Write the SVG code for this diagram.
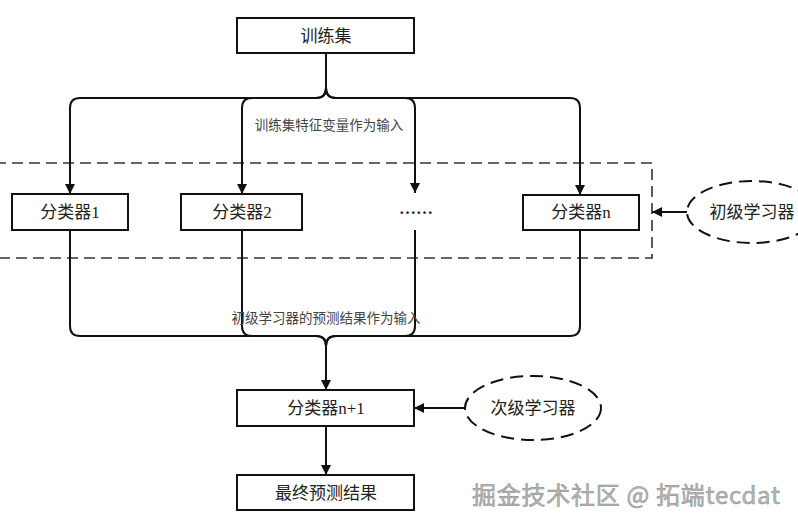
<svg xmlns="http://www.w3.org/2000/svg" width="798" height="528" viewBox="0 0 798 528">
<defs>
<style>
.box{fill:#fff;stroke:#111;stroke-width:2}
.t{font-family:"Liberation Serif","Noto Sans CJK SC",serif;font-size:17px;fill:#222;text-anchor:middle;dominant-baseline:central}
.lbl{font-family:"Liberation Serif","Noto Sans CJK SC",serif;font-size:13.5px;fill:#444;text-anchor:middle;dominant-baseline:central}
.ln{fill:none;stroke:#111;stroke-width:2}
.dash{fill:none;stroke:#333;stroke-width:1.6;stroke-dasharray:11 6}
.ell{fill:#fff;stroke:#111;stroke-width:2;stroke-dasharray:13 7}
</style>
<marker id="ah" viewBox="0 0 10 10" refX="10" refY="5" markerWidth="10" markerHeight="10" markerUnits="userSpaceOnUse" orient="auto">
<path d="M0,0 L10,5 L0,10 Z" fill="#111"/>
</marker>
</defs>
<rect width="798" height="528" fill="#fff"/>
<rect class="dash" x="-5" y="163" width="657" height="95"/>
<g id="connectors">
<path class="ln" d="M326,53 V88 Q326,98 316,98 H80 Q70,98 70,108 V194" marker-end="url(#ah)"/>
<path class="ln" d="M326,53 V88 Q326,98 316,98 H252 Q242,98 242,108 V194" marker-end="url(#ah)"/>
<path class="ln" d="M326,53 V88 Q326,98 336,98 H405 Q415,98 415,108 V193" marker-end="url(#ah)"/>
<path class="ln" d="M326,53 V88 Q326,98 336,98 H570 Q580,98 580,108 V195" marker-end="url(#ah)"/>
<path class="ln" d="M70,230 V326 Q70,336 80,336 H316 Q326,336 326,346 V390" marker-end="url(#ah)"/>
<path class="ln" d="M242,230 V326 Q242,336 252,336 H316 Q326,336 326,346"/>
<path class="ln" d="M415,230 V326 Q415,336 405,336 H336 Q326,336 326,346"/>
<path class="ln" d="M580,230 V326 Q580,336 570,336 H336 Q326,336 326,346"/>
<path class="ln" d="M326,426 V475" marker-end="url(#ah)"/>
<path class="ln" d="M687,212 H652" marker-end="url(#ah)"/>
<path class="ln" d="M465,408 H414" marker-end="url(#ah)"/>
<text class="lbl" x="329" y="125">训练集特征变量作为输入</text>
<text class="lbl" x="326" y="318">初级学习器的预测结果作为输入</text>
</g>
<g id="n-train"><rect class="box" x="237" y="18" width="177" height="35"/><text class="t" x="326" y="36">训练集</text></g>
<g id="n-c1"><rect class="box" x="12" y="194" width="116" height="36"/><text class="t" x="70" y="212">分类器1</text></g>
<g id="n-c2"><rect class="box" x="181" y="194" width="121" height="36"/><text class="t" x="242" y="212">分类器2</text></g>
<g id="n-dots"><text class="t" x="416" y="208" font-weight="bold">……</text></g>
<g id="n-cn"><rect class="box" x="523" y="195" width="116" height="35"/><text class="t" x="581" y="212">分类器n</text></g>
<g id="n-primary"><ellipse class="ell" cx="752" cy="212" rx="65" ry="31"/><text class="t" x="752" y="212">初级学习器</text></g>
<g id="n-cn1"><rect class="box" x="237" y="390" width="177" height="36"/><text class="t" x="326" y="408">分类器n+1</text></g>
<g id="n-secondary"><ellipse class="ell" cx="533" cy="408" rx="68" ry="32"/><text class="t" x="533" y="408">次级学习器</text></g>
<g id="n-final"><rect class="box" x="237" y="475" width="177" height="35"/><text class="t" x="326" y="493">最终预测结果</text></g>
<text x="472" y="504" font-family="'Noto Sans CJK SC','Noto Sans',sans-serif" font-size="24" fill="#b8b8b8" stroke="#8a8a8a" stroke-width="0.5" textLength="308" lengthAdjust="spacing">掘金技术社区 @ 拓端tecdat</text>
</svg>
